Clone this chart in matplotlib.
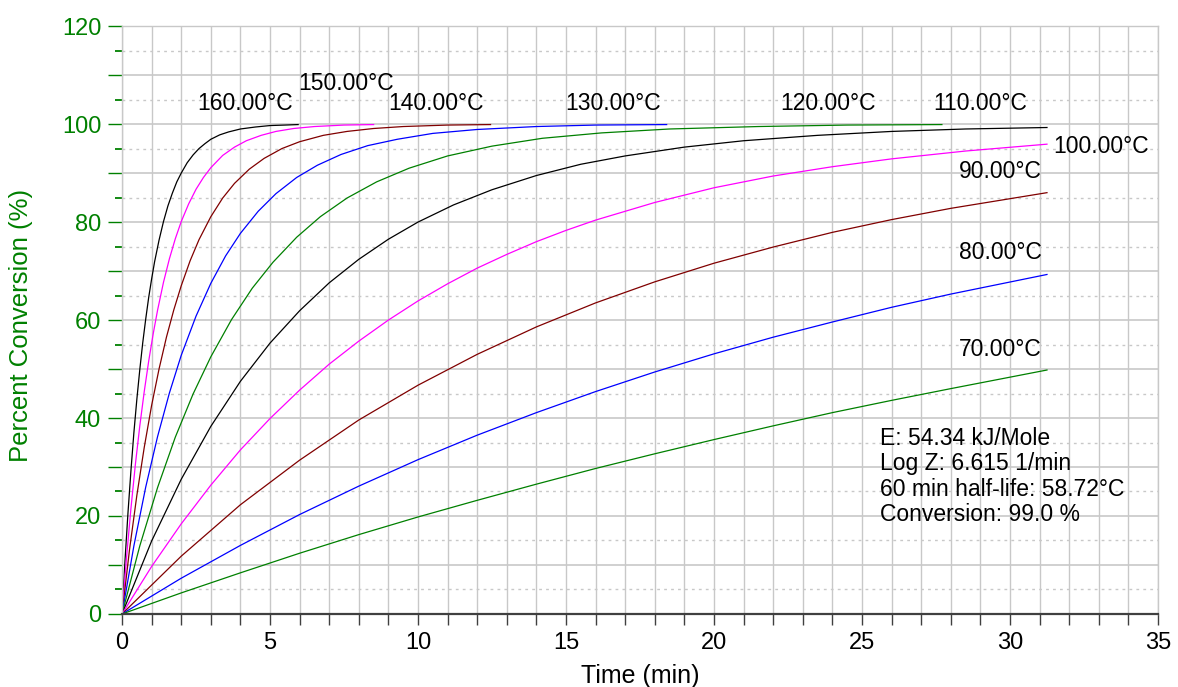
import matplotlib
matplotlib.use("Agg")
import matplotlib.pyplot as plt
from matplotlib.ticker import MultipleLocator, FuncFormatter

plt.rcParams['font.family'] = ['Liberation Sans', 'DejaVu Sans']

# curve data: time (min) and percent conversion
temps = ['160.00°C', '150.00°C', '140.00°C', '130.00°C', '120.00°C',
         '110.00°C', '100.00°C', '90.00°C', '80.00°C', '70.00°C']
colors = ['black', '#ff00ff', '#800000', '#0000ff', '#008000',
          'black', '#ff00ff', '#800000', '#0000ff', '#008000']

t160 = [0, 0.1, 0.2, 0.3, 0.4, 0.5, 0.6, 0.7, 0.8, 0.9, 1.0, 1.1, 1.25, 1.4, 1.55,
        1.7, 1.85, 2.0, 2.2, 2.4, 2.6, 2.8, 3.0, 3.3, 3.6, 4.0, 4.5, 5.0, 5.5, 5.95]
y160 = [0, 10.9, 20.6, 29.2, 37.0, 43.8, 49.9, 55.4, 60.2, 64.6, 68.4, 71.9, 76.3, 80.1, 83.3,
        85.9, 88.2, 90.0, 92.1, 93.7, 95.0, 96.0, 96.9, 97.8, 98.4, 99.0, 99.4, 99.7, 99.8, 99.9]

t150 = [0, 0.15, 0.3, 0.45, 0.6, 0.75, 0.9, 1.05, 1.2, 1.4, 1.6, 1.8, 2.0, 2.25, 2.5,
        2.75, 3.0, 3.4, 3.8, 4.2, 4.7, 5.2, 5.8, 6.5, 7.5, 8.5]
y150 = [0, 11.4, 21.5, 30.5, 38.4, 45.4, 51.6, 57.1, 62.0, 67.7, 72.5, 76.6, 80.1, 83.7, 86.7,
        89.1, 91.1, 93.6, 95.3, 96.6, 97.7, 98.5, 99.1, 99.5, 99.8, 99.9]

t140 = [0, 0.25, 0.5, 0.75, 1.0, 1.25, 1.5, 1.75, 2.0, 2.3, 2.6, 3.0, 3.4, 3.8, 4.3,
        4.8, 5.4, 6.0, 6.8, 7.6, 8.5, 9.5, 11.0, 12.45]
y140 = [0, 13.0, 24.2, 34.0, 42.6, 50.0, 56.5, 62.1, 67.0, 72.1, 76.4, 81.1, 84.9, 87.9, 90.8,
        93.0, 95.0, 96.4, 97.7, 98.5, 99.1, 99.5, 99.8, 99.9]

t130 = [0, 0.4, 0.8, 1.2, 1.6, 2.0, 2.5, 3.0, 3.5, 4.0, 4.6, 5.2, 5.9, 6.6, 7.4,
        8.3, 9.3, 10.5, 12, 14, 16, 18.4]
y130 = [0, 13.9, 25.9, 36.2, 45.1, 52.8, 60.8, 67.5, 73.1, 77.7, 82.2, 85.8, 89.1, 91.6, 93.8,
        95.6, 96.9, 98.1, 98.9, 99.5, 99.8, 99.9]

t120 = [0, 0.6, 1.2, 1.8, 2.4, 3.0, 3.7, 4.4, 5.1, 5.9, 6.7, 7.6, 8.6, 9.7, 11,
        12.5, 14.2, 16.2, 18.5, 21.5, 24.5, 27.7]
y120 = [0, 13.9, 25.8, 36.1, 44.9, 52.5, 60.1, 66.5, 71.8, 76.9, 81.1, 84.9, 88.2, 91.0, 93.5,
        95.5, 97.1, 98.2, 99.0, 99.5, 99.8, 99.9]

t110 = [0, 1, 2, 3, 4, 5, 6, 7, 8, 9, 10, 11.2, 12.5, 14, 15.5,
        17, 19, 21, 23.5, 26, 28.5, 31.25]
y110 = [0, 14.9, 27.5, 38.3, 47.5, 55.3, 61.9, 67.6, 72.4, 76.5, 80.0, 83.5, 86.6, 89.5, 91.8,
        93.5, 95.3, 96.6, 97.7, 98.5, 99.0, 99.3]

t100 = [0, 1, 2, 3, 4, 5, 6, 7, 8, 9, 10, 11, 12, 13, 14, 15, 16,
        18, 20, 22, 24, 26, 28.5, 31.25]
y100 = [0, 9.7, 18.4, 26.3, 33.5, 39.9, 45.7, 51.0, 55.7, 60.0, 63.9, 67.4, 70.6, 73.4, 76.0, 78.3, 80.4,
        84.0, 87.0, 89.4, 91.3, 92.9, 94.5, 95.9]

t_slow = [0, 2, 4, 6, 8, 10, 12, 14, 16, 18, 20, 22, 24, 26, 28, 31.25]
y90 = [0, 11.8, 22.3, 31.4, 39.6, 46.7, 53.0, 58.6, 63.5, 67.8, 71.6, 74.9, 77.9, 80.5, 82.8, 86.0]
y80 = [0, 7.3, 14.0, 20.3, 26.1, 31.5, 36.5, 41.1, 45.4, 49.4, 53.1, 56.5, 59.6, 62.6, 65.3, 69.3]
y70 = [0, 4.3, 8.4, 12.4, 16.2, 19.8, 23.2, 26.5, 29.7, 32.7, 35.6, 38.4, 41.1, 43.6, 46.0, 49.8]

curves = [(t160, y160), (t150, y150), (t140, y140), (t130, y130), (t120, y120),
          (t110, y110), (t100, y100), (t_slow, y90), (t_slow, y80), (t_slow, y70)]

# where each temperature label sits (left edge, vertical centre)
label_pos = [(2.53, 104.1), (5.95, 108.2), (8.99, 104.1), (14.97, 104.1), (22.23, 104.1),
             (27.4, 104.1), (31.45, 95.5), (28.28, 90.4), (28.28, 73.7), (28.28, 53.9)]

info = "E: 54.34 kJ/Mole\nLog Z: 6.615 1/min\n60 min half-life: 58.72°C\nConversion: 99.0 %"

green = '#008000'
grid_c = '#c8c8c8'

fig = plt.figure(figsize=(11.78, 6.87), dpi=100)
ax = fig.add_axes([0.1036, 0.1063, 0.983 - 0.1036, 0.962 - 0.1063])

for (t, y), c in zip(curves, colors):
    ax.plot(t, y, color=c, lw=0.9)

for name, (x, y) in zip(temps, label_pos):
    ax.text(x, y, name, fontsize=16.5, ha='left', va='center', color='black')

ax.text(25.6, 38.2, info, fontsize=16.5, ha='left', va='top', linespacing=1.13)

ax.set_xlim(0, 35)
ax.set_ylim(0, 120)

ax.xaxis.set_major_locator(MultipleLocator(5))
ax.xaxis.set_minor_locator(MultipleLocator(1))
ax.yaxis.set_major_locator(MultipleLocator(10))
ax.yaxis.set_minor_locator(MultipleLocator(5))
ax.yaxis.set_major_formatter(FuncFormatter(lambda v, p: f"{int(v)}" if v % 20 == 0 else ""))

ax.grid(True, which='both', axis='x', color=grid_c, lw=1.0)
ax.grid(True, which='major', axis='y', color=grid_c, lw=1.2)
ax.grid(True, which='minor', axis='y', color=grid_c, lw=1.0, ls=(0, (2, 3)))
ax.set_axisbelow(True)

ax.tick_params(axis='x', which='both', direction='out', length=8, width=1,
               color='#404040', labelsize=17, pad=5)
ax.tick_params(axis='y', which='major', direction='out', length=10, width=1,
               color=green, labelcolor=green, labelsize=17, pad=5)
ax.tick_params(axis='y', which='minor', direction='out', length=5, width=1.3, color=green)

for side in ['left', 'top', 'right']:
    ax.spines[side].set_color(grid_c)
    ax.spines[side].set_linewidth(1.0)
ax.spines['bottom'].set_color('#404040')
ax.spines['bottom'].set_linewidth(1.6)

ax.set_xlabel('Time (min)', fontsize=18, labelpad=7)
ax.set_ylabel('Percent Conversion (%)', fontsize=18.5, color=green)
ax.yaxis.set_label_coords(-0.086, 0.49)

fig.savefig('out.png', dpi=100)
